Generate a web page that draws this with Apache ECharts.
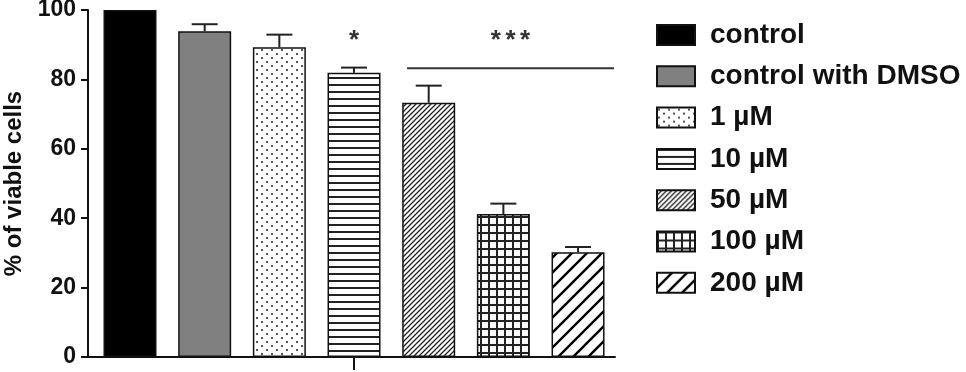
<!DOCTYPE html>
<html>
<head>
<meta charset="utf-8">
<script src="https://cdn.jsdelivr.net/npm/echarts@6/dist/echarts.min.js"></script>
<style>
html,body{margin:0;padding:0;background:#fff;}
#chart{width:966px;height:372px;}
</style>
</head>
<body>
<div id="chart"></div>
<script>
// ---- data ----
const categories = ['control', 'control with DMSO', '1 \u00b5M', '10 \u00b5M', '50 \u00b5M', '100 \u00b5M', '200 \u00b5M'];
const values = [100, 93.9, 89.3, 81.9, 73.3, 41.2, 30.2];
const sem = [0, 2.0, 3.6, 1.5, 4.9, 3.0, 1.5];
const yTicks = [0, 20, 40, 60, 80, 100];
const yAxisTitle = '% of viable cells';
const sigSingle = { index: 3, label: '*', y: 92.8 };
const sigGroup = { fromIndex: 3.71, label: '***', lineY: 83.2, y: 92.8 };

// ---- patterns ----
function tile(w, h, draw) {
  const c = document.createElement('canvas');
  c.width = w; c.height = h;
  const ctx = c.getContext('2d');
  ctx.fillStyle = '#fff';
  ctx.fillRect(0, 0, w, h);
  draw(ctx, w, h);
  return { image: c, repeat: 'repeat' };
}
function diag(ctx, s, lw, col) {
  ctx.strokeStyle = col; ctx.lineWidth = lw; ctx.lineCap = 'square';
  ctx.beginPath();
  ctx.moveTo(0, s); ctx.lineTo(s, 0);
  ctx.moveTo(-s, s); ctx.lineTo(s, -s);
  ctx.moveTo(0, 2 * s); ctx.lineTo(2 * s, 0);
  ctx.stroke();
}
const fills = [
  '#000000',
  '#808080',
  tile(10, 8, (ctx) => { ctx.fillStyle = '#555'; ctx.fillRect(1, 1, 2, 2); ctx.fillRect(6, 5, 2, 2); }),
  tile(8, 7, (ctx, w) => { ctx.fillStyle = '#222'; ctx.fillRect(0, 0, w, 2); }),
  tile(5, 5, (ctx, w) => diag(ctx, w, 1.3, '#222')),
  tile(8, 8, (ctx, w, h) => { ctx.fillStyle = '#222'; ctx.fillRect(0, 0, w, 2); ctx.fillRect(0, 0, 2, h); }),
  tile(15, 15, (ctx, w) => diag(ctx, w, 2.4, '#000'))
];

const FONT = "'Liberation Sans', Arial, Helvetica, sans-serif";

const barSeries = categories.map((name, i) => ({
  name: name,
  type: 'bar',
  barWidth: 53,
  barGap: '-100%',
  data: [[i, values[i]]],
  itemStyle: { color: fills[i], borderColor: '#111', borderWidth: 1.5 },
  emphasis: { disabled: true },
  animation: false,
  z: 2
}));

const errSeries = {
  type: 'custom',
  name: 'err',
  data: values.map((v, i) => [i, v, v + sem[i]]),
  encode: { x: 0, y: [1, 2] },
  z: 3,
  silent: true,
  animation: false,
  renderItem: function (params, api) {
    const i = api.value(0);
    if (api.value(2) <= api.value(1)) return null;
    const p0 = api.coord([i, api.value(1)]);
    const p1 = api.coord([i, api.value(2)]);
    const hw = 13;
    const st = { stroke: '#222', lineWidth: 2 };
    return {
      type: 'group',
      children: [
        { type: 'line', shape: { x1: p0[0], y1: p0[1], x2: p1[0], y2: p1[1] }, style: st },
        { type: 'line', shape: { x1: p1[0] - hw, y1: p1[1], x2: p1[0] + hw, y2: p1[1] }, style: st }
      ]
    };
  }
};

const annSeries = {
  type: 'custom',
  name: 'ann',
  data: [[sigSingle.index, sigSingle.y]],
  encode: { x: 0, y: 1 },
  z: 4,
  silent: true,
  animation: false,
  renderItem: function (params, api) {
    const cs = params.coordSys;
    const ps = api.coord([sigSingle.index, sigSingle.y]);
    const l0 = api.coord([sigGroup.fromIndex, sigGroup.lineY]);
    const xEnd = cs.x + cs.width - 1;
    const mid = (l0[0] + xEnd) / 2;
    const gy = api.coord([0, sigGroup.y])[1];
    const tst = { fill: '#333', font: 'bold 26px ' + FONT, textAlign: 'center', textVerticalAlign: 'middle' };
    const children = [
      { type: 'text', style: Object.assign({ text: sigSingle.label, x: ps[0], y: ps[1] + 6 }, tst) },
      { type: 'line', shape: { x1: l0[0], y1: l0[1], x2: xEnd, y2: l0[1] }, style: { stroke: '#333', lineWidth: 2 } }
    ];
    const chars = sigGroup.label.split('');
    const pitch = 14.6;
    chars.forEach((ch, k) => {
      children.push({ type: 'text', style: Object.assign({ text: ch, x: mid + (k - (chars.length - 1) / 2) * pitch, y: gy + 6 }, tst) });
    });
    return { type: 'group', children: children };
  }
};

const chart = echarts.init(document.getElementById('chart'), null, { renderer: 'canvas' });
chart.setOption({
  animation: false,
  backgroundColor: '#fff',
  grid: { left: 88, right: 351, top: 10, bottom: 15, outerBoundsMode: 'none', containLabel: false },
  legend: {
    data: categories,
    orient: 'vertical',
    left: 651,
    top: 16,
    itemWidth: 38,
    itemHeight: 20,
    itemGap: 13.3,
    icon: 'rect',
    selectedMode: false,
    itemStyle: { borderColor: '#111', borderWidth: 2 },
    textStyle: { fontFamily: FONT, fontWeight: 'bold', fontSize: 28, color: '#111', lineHeight: 26, padding: [0, 0, 0, 10] }
  },
  xAxis: {
    type: 'value',
    min: -0.5625,
    max: 6.495,
    splitLine: { show: false },
    axisLine: { show: true, onZero: false, lineStyle: { color: '#111', width: 2 } },
    axisTick: { show: true, customValues: [3], length: 13, lineStyle: { color: '#111', width: 2 } },
    axisLabel: { show: false }
  },
  yAxis: {
    type: 'value',
    min: 0,
    max: 100,
    interval: 20,
    name: yAxisTitle,
    nameLocation: 'middle',
    nameGap: 56,
    nameTextStyle: { fontFamily: FONT, fontWeight: 'bold', fontSize: 24, color: '#111' },
    splitLine: { show: false },
    axisLine: { show: true, onZero: false, lineStyle: { color: '#111', width: 2 } },
    axisTick: { show: true, length: 7, lineStyle: { color: '#111', width: 2 } },
    axisLabel: {
      fontFamily: FONT, fontWeight: 'bold', fontSize: 23, color: '#111', margin: 12,
      formatter: (v) => (yTicks.indexOf(v) >= 0 ? String(v) : '')
    }
  },
  series: barSeries.concat([errSeries, annSeries])
});
</script>
</body>
</html>
